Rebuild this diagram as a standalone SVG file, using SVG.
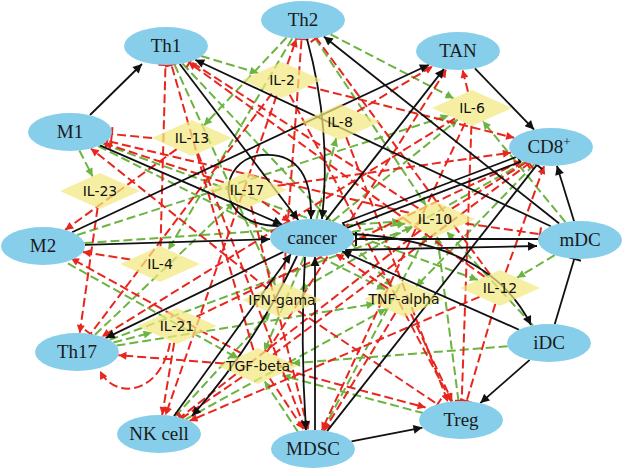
<svg xmlns="http://www.w3.org/2000/svg" width="624" height="469" viewBox="0 0 624 469">
<defs>
<style>
.e{fill:#87ceeb}
.c{fill:#f3e97f;fill-opacity:0.72}
.cl{font-family:"DejaVu Sans",sans-serif;font-size:14px;fill:#111;text-anchor:middle;dominant-baseline:central}
.nl{font-family:"Liberation Serif","Times New Roman",serif;font-size:19px;fill:#1a1a1a;text-anchor:middle}
.g{stroke:#6cb33f;stroke-width:2;stroke-dasharray:9 4;fill:none;marker-end:url(#ga)}
.r{stroke:#e8261e;stroke-width:2;stroke-dasharray:9 4;fill:none;marker-end:url(#ra)}
.rt{stroke:#e8261e;stroke-width:2;stroke-dasharray:9 4;fill:none;marker-end:url(#rt)}
.b{stroke:#111;stroke-width:1.8;fill:none;marker-end:url(#ba)}
.bt{stroke:#111;stroke-width:1.8;fill:none;marker-end:url(#bt)}
</style>
<marker id="ga" viewBox="0 0 10 10" refX="10" refY="5" markerWidth="11" markerHeight="8" markerUnits="userSpaceOnUse" orient="auto"><path d="M0,0 L10,5 L0,10 z" fill="#6cb33f"/></marker>
<marker id="ra" viewBox="0 0 10 10" refX="10" refY="5" markerWidth="11" markerHeight="8" markerUnits="userSpaceOnUse" orient="auto"><path d="M0,0 L10,5 L0,10 z" fill="#e8261e"/></marker>
<marker id="ba" viewBox="0 0 10 10" refX="10" refY="5" markerWidth="12" markerHeight="9" markerUnits="userSpaceOnUse" orient="auto"><path d="M0,0 L10,5 L0,10 z" fill="#111"/></marker>
<marker id="rt" viewBox="0 0 4 14" refX="2" refY="7" markerWidth="4" markerHeight="14" markerUnits="userSpaceOnUse" orient="auto"><rect x="1" y="0" width="2" height="14" fill="#e8261e"/></marker>
<marker id="bt" viewBox="0 0 4 14" refX="2" refY="7" markerWidth="4" markerHeight="14" markerUnits="userSpaceOnUse" orient="auto"><rect x="1" y="0" width="2" height="14" fill="#111"/></marker>
</defs>
<rect width="624" height="469" fill="#fff"/>
<g id="connectors">
<path class="g" d="M201,56 L258,73"/>
<path class="g" d="M174.5,64.6 L275.2,285.1"/>
<path class="g" d="M182.4,63.5 L392.1,286.4"/>
<path class="g" d="M292.2,38.4 L168.3,249.8"/>
<path class="g" d="M286.6,37.5 L203.9,125.4"/>
<path class="g" d="M315.1,38.2 L425.8,205.1"/>
<path class="g" d="M330.5,34.3 L453.5,98.3"/>
<path class="g" d="M79.4,150.5 L92.6,176.4"/>
<path class="g" d="M102.8,143.9 L477.9,280"/>
<path class="g" d="M98.2,146.1 L385.1,289.5"/>
<path class="g" d="M84.5,243.1 L400.3,221.4"/>
<path class="g" d="M67.9,263.4 L238.6,358.6"/>
<path class="g" d="M77.2,235 L448.7,115.5"/>
<path class="g" d="M95,334.8 L234.2,202.2"/>
<path class="g" d="M113.4,342.5 L151.6,332.6"/>
<path class="g" d="M116.5,345.6 L374.6,303.8"/>
<path class="g" d="M109.5,339.9 L413.1,227.1"/>
<path class="g" d="M175.1,416.5 L270.3,312.7"/>
<path class="g" d="M185.7,419.3 L386,308.9"/>
<path class="g" d="M524.9,161.9 L299.7,290"/>
<path class="g" d="M534.2,164.4 L416.1,286.5"/>
<path class="g" d="M424,413.3 L282.3,375.6"/>
<path class="g" d="M458.5,401 L437.2,236"/>
<path class="g" d="M298.4,432.5 L264.7,381.6"/>
<path class="g" d="M322.8,430.5 L427.3,233.5"/>
<path class="g" d="M351.7,231.9 L405.2,223.6"/>
<path class="g" d="M304.1,256.7 L264.4,350.9"/>
<path class="g" d="M332.4,221.4 L457.7,119.6"/>
<path class="g" d="M316.6,219.1 L336.1,138.2"/>
<path class="g" d="M554.7,255.2 L517.1,277.7"/>
<path class="g" d="M507.6,346.3 L292,363.3"/>
<path class="g" d="M532.9,325.5 L446.7,231.7"/>
<path class="g" d="M565.4,222.2 L482.8,121.2"/>
<path class="r" d="M307.7,86.4 L514.2,137.8"/>
<path class="r" d="M276.6,95.6 L165.5,415.2"/>
<path class="r" d="M289.7,94.6 L451.3,401.5"/>
<path class="r" d="M287.4,64.4 L296.4,38.8"/>
<path class="rt" d="M152,138 L111.8,134.1"/>
<path class="r" d="M176.7,149.1 L65.2,229.9"/>
<path class="r" d="M198,153.3 L305.7,430.3"/>
<path class="r" d="M97.6,207.9 L79.7,333"/>
<path class="r" d="M262.1,201.2 L290.1,221.8"/>
<path class="r" d="M251.1,206.1 L308.2,430.1"/>
<path class="r" d="M223.9,182.4 L104,143.2"/>
<path class="r" d="M357.1,111.7 L432.8,66.2"/>
<path class="r" d="M346.2,137.2 L448,402"/>
<path class="r" d="M455.1,118.4 L101.8,336.7"/>
<path class="r" d="M465.1,122.9 L321.7,430.4"/>
<path class="rt" d="M471.4,125.7 L461.7,401"/>
<path class="r" d="M468,91.8 L462.6,69.9"/>
<path class="rt" d="M418.5,208.4 L190.2,61.5"/>
<path class="rt" d="M465.3,223.4 L540,234.2"/>
<path class="rt" d="M451.8,208.6 L526.3,162.4"/>
<path class="rt" d="M408.9,212.8 L107.2,140.9"/>
<path class="rt" d="M420.4,230.4 L180.1,417.6"/>
<path class="rt" d="M160.5,246.2 L165.5,65"/>
<path class="r" d="M130.2,259.4 L82.8,252.1"/>
<path class="r" d="M174.2,342.7 L162.2,415.1"/>
<path class="r" d="M170,343 C160,395 115,400 100,371"/>
<path class="r" d="M196.4,316.7 L522.1,160.8"/>
<path class="r" d="M267.5,288.5 L90.8,148.5"/>
<path class="rt" d="M283.3,282.6 L301.6,39"/>
<path class="rt" d="M298.1,310.8 L437.5,404.3"/>
<path class="r" d="M223.9,363.4 L118.4,355.2"/>
<path class="rt" d="M242.2,376.9 L182.1,418.1"/>
<path class="rt" d="M273,354.8 L529.3,163.2"/>
<path class="r" d="M283.9,369.8 L425.6,407.5"/>
<path class="r" d="M269.7,378.2 L303.4,429.1"/>
<path class="rt" d="M253.4,350.1 L171.4,64.8"/>
<path class="r" d="M266.9,352 L446.4,69.3"/>
<path class="r" d="M241.6,353.4 L70.9,258.2"/>
<path class="r" d="M387.8,288.3 L335.7,253.7"/>
<path class="r" d="M411,313.9 L452.2,401.4"/>
<path class="r" d="M395.4,313.1 L324.1,430.7"/>
<path class="r" d="M484.7,276.9 L188.3,62.1"/>
<path class="r" d="M479.5,296.8 L189.5,420.9"/>
<path class="r" d="M505.6,272.5 L544.2,165.8"/>
<path class="rt" d="M490.1,274.5 L316.3,38"/>
<path class="rt" d="M495.3,303.9 L466.6,401.2"/>
<path class="rt" d="M271.9,93.4 L90.5,334"/>
<path class="r" d="M277.4,185.7 L510.9,152.7"/>
<path class="b" d="M90,115 L142,64"/>
<path class="b" d="M99.9,145.4 L282.1,224.6"/>
<path class="b" d="M179.7,64 L298.3,220"/>
<path class="b" d="M307,39 Q332,130 322,219"/>
<path class="b" d="M283,226 C210,228 218,158 262,155 C300,152 312,180 311,219"/>
<path class="b" d="M550.8,226.3 L195.2,59.7"/>
<path class="b" d="M559.2,223.5 L323.8,36.5"/>
<path class="b" d="M72.1,232.3 L428.9,64.7"/>
<path class="b" d="M326,220.1 L444,68.9"/>
<path class="b" d="M474.9,68.4 L534.1,129.6"/>
<path class="bt" d="M343,223 L517.8,156.4"/>
<path class="bt" d="M520,162 L345.2,228.6"/>
<path class="b" d="M574.1,221.2 L556.9,165.8"/>
<path class="bt" d="M538,239 L356,239"/>
<path class="b" d="M345,250 L537,246"/>
<path class="b" d="M352,234 C430,238 500,262 531,325"/>
<path class="b" d="M519,329.7 L342,251.3"/>
<path class="bt" d="M554.7,324.2 L574.3,258.8"/>
<path class="b" d="M529.7,359.9 L480.3,403.1"/>
<path class="b" d="M351.5,441.4 L422.5,427.6"/>
<path class="b" d="M305,257 Q300,340 306,430"/>
<path class="b" d="M315,430 L315,257"/>
<path class="b" d="M297,256 Q255,345 192,416"/>
<path class="b" d="M174,416 L291,254"/>
<path class="b" d="M283.3,251.9 L105.7,338.1"/>
<path class="b" d="M85,244.8 L270,239.2"/>
<path class="bt" d="M327.1,431.1 L536.9,164.9"/>
</g>
<g id="IL-2"><polygon class="c" points="242,80 282,62 322,80 282,98"/><text class="cl" x="282" y="80">IL-2</text></g>
<g id="IL-13"><polygon class="c" points="152,138 192,120 232,138 192,156"/><text class="cl" x="192" y="138">IL-13</text></g>
<g id="IL-23"><polygon class="c" points="60,191 100,173 140,191 100,209"/><text class="cl" x="100" y="191">IL-23</text></g>
<g id="IL-17"><polygon class="c" points="207,190 247,172 287,190 247,208"/><text class="cl" x="247" y="190">IL-17</text></g>
<g id="IL-8"><polygon class="c" points="300,122 340,104 380,122 340,140"/><text class="cl" x="340" y="122">IL-8</text></g>
<g id="IL-6"><polygon class="c" points="432,108 472,90 512,108 472,126"/><text class="cl" x="472" y="108">IL-6</text></g>
<g id="IL-10"><polygon class="c" points="395,219 435,201 475,219 435,237"/><text class="cl" x="435" y="219">IL-10</text></g>
<g id="IL-4"><polygon class="c" points="120,264 160,246 200,264 160,282"/><text class="cl" x="160" y="264">IL-4</text></g>
<g id="IL-21"><polygon class="c" points="137,326 177,308 217,326 177,344"/><text class="cl" x="177" y="326">IL-21</text></g>
<g id="IFN-gama"><polygon class="c" points="242,300 282,282 322,300 282,318"/><text class="cl" x="282" y="300">IFN-gama</text></g>
<g id="TGF-beta"><polygon class="c" points="218,366 258,348 298,366 258,384"/><text class="cl" x="258" y="366">TGF-beta</text></g>
<g id="TNF-alpha"><polygon class="c" points="364,299 404,281 444,299 404,317"/><text class="cl" x="404" y="299">TNF-alpha</text></g>
<g id="IL-12"><polygon class="c" points="460,288 500,270 540,288 500,306"/><text class="cl" x="500" y="288">IL-12</text></g>
<g id="Th1"><ellipse class="e" cx="166" cy="46" rx="42" ry="19"/><text class="nl" x="166" y="52">Th1</text></g>
<g id="Th2"><ellipse class="e" cx="303" cy="20" rx="42" ry="19"/><text class="nl" x="303" y="26">Th2</text></g>
<g id="TAN"><ellipse class="e" cx="458" cy="51" rx="42" ry="19"/><text class="nl" x="458" y="57">TAN</text></g>
<g id="CD8"><ellipse class="e" cx="551" cy="147" rx="42" ry="19"/><text class="nl" x="549" y="153">CD8<tspan dy="-7" font-size="13">+</tspan></text></g>
<g id="M1"><ellipse class="e" cx="70" cy="132" rx="42" ry="19"/><text class="nl" x="70" y="138">M1</text></g>
<g id="M2"><ellipse class="e" cx="43" cy="246" rx="42" ry="19"/><text class="nl" x="43" y="252">M2</text></g>
<g id="cancer"><ellipse class="e" cx="312" cy="238" rx="42" ry="19"/><text class="nl" x="312" y="244">cancer</text></g>
<g id="mDC"><ellipse class="e" cx="580" cy="240" rx="42" ry="19"/><text class="nl" x="580" y="246">mDC</text></g>
<g id="Th17"><ellipse class="e" cx="77" cy="352" rx="42" ry="19"/><text class="nl" x="77" y="358">Th17</text></g>
<g id="iDC"><ellipse class="e" cx="549" cy="343" rx="42" ry="19"/><text class="nl" x="549" y="349">iDC</text></g>
<g id="NK"><ellipse class="e" cx="159" cy="434" rx="42" ry="19"/><text class="nl" x="159" y="440">NK cell</text></g>
<g id="MDSC"><ellipse class="e" cx="313" cy="449" rx="42" ry="19"/><text class="nl" x="313" y="455">MDSC</text></g>
<g id="Treg"><ellipse class="e" cx="461" cy="420" rx="42" ry="19"/><text class="nl" x="461" y="426">Treg</text></g>
</svg>
